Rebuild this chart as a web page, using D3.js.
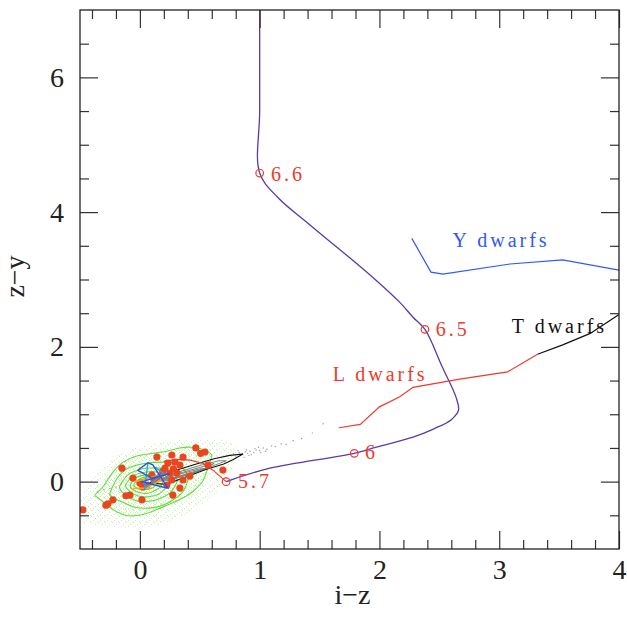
<!DOCTYPE html>
<html><head><meta charset="utf-8">
<script src="https://cdn.jsdelivr.net/npm/d3@7"></script>
<style>
body{margin:0;background:#fff;}
svg{display:block;}
text{font-family:"Liberation Serif","DejaVu Serif",serif;}
</style></head>
<body>
<svg id="chart" width="627" height="617"></svg>
<script>
// ---------- data (i-z, z-y) ----------
const xMajor = [0,1,2,3,4];
const xMinor = [-0.4,-0.2,0.2,0.4,0.6,0.8,1.2,1.4,1.6,1.8,2.2,2.4,2.6,2.8,3.2,3.4,3.6,3.8];
const yMajor = [0,2,4,6];
const yMinor = [-0.5,0.5,1,1.5,2.5,3,3.5,4.5,5,5.5,6.5];

const modelTrack = [[1.0,7.3],[1.0,5.5],[1.0,4.58],[1.15,4.22],[1.42,3.81],[1.90,3.10],[2.17,2.66],[2.28,2.44],[2.38,2.26],
  [2.52,1.72],[2.64,1.25],[2.66,1.06],[2.60,0.92],[2.45,0.78],[2.28,0.66],[1.95,0.50],[1.79,0.42],
  [1.085,0.20],[0.75,0.02],[0.72,0.0]];
const lowTrack = [[0.72,0.0],[0.61,0.17],[0.53,0.27],[0.42,0.32],[0.31,0.33],[0.2,0.30]];
const trackMarks = [[1.0,4.58,"6.6"],[2.38,2.26,"6.5"],[1.79,0.42,"6"],[0.72,0.0,"5.7"]];
const markLabelPos = [[1.094,4.46],[2.47,2.16],[1.88,0.335],[0.82,-0.095]];

const lDwarfs = [[1.66,0.80],[1.84,0.85],[2.0,1.11],[2.17,1.26],[2.28,1.40],[2.67,1.52],[3.07,1.63],[3.32,1.89]];
const tDwarfs = [[3.32,1.89],[3.53,2.03],[3.76,2.20],[4.0,2.48]];
const yDwarfs = [[2.27,3.61],[2.43,3.11],[2.53,3.08],[3.09,3.23],[3.53,3.29],[4.0,3.14]];
const groupNames = ["L dwarfs","T dwarfs","Y dwarfs"];
const groupLabelPos = [[1.61,1.49],[3.105,2.20],[2.61,3.48]];

// green density contours (outer to inner)
const greenContours = [
 [[-0.376,-0.20],[-0.31,-0.08],[-0.225,0.14],[-0.14,0.29],[-0.025,0.38],[0.11,0.42],[0.225,0.45],[0.33,0.50],[0.44,0.51],[0.54,0.47],[0.60,0.39],[0.57,0.22],[0.53,0.02],[0.44,-0.15],[0.33,-0.27],[0.225,-0.35],[0.06,-0.47],[-0.08,-0.51],[-0.19,-0.45],[-0.275,-0.35],[-0.35,-0.24]],
 [[-0.25,-0.17],[-0.19,0.05],[-0.10,0.20],[0.04,0.27],[0.18,0.29],[0.29,0.27],[0.375,0.17],[0.40,0.02],[0.35,-0.17],[0.23,-0.32],[0.10,-0.39],[-0.04,-0.38],[-0.15,-0.30],[-0.23,-0.24]],
 [[-0.17,-0.08],[-0.10,0.10],[0.02,0.19],[0.16,0.20],[0.28,0.12],[0.31,0.0],[0.25,-0.17],[0.12,-0.28],[-0.02,-0.29],[-0.12,-0.20]],
 [[-0.12,-0.06],[-0.06,0.08],[0.04,0.14],[0.15,0.14],[0.23,0.06],[0.23,-0.06],[0.15,-0.19],[0.04,-0.23],[-0.06,-0.18]],
 [[-0.08,-0.05],[-0.03,0.06],[0.05,0.10],[0.14,0.09],[0.19,0.02],[0.17,-0.08],[0.09,-0.16],[0.01,-0.17],[-0.06,-0.12]],
 [[-0.05,-0.04],[0.0,0.04],[0.06,0.07],[0.12,0.05],[0.15,-0.02],[0.10,-0.10],[0.03,-0.12],[-0.03,-0.09]],
 [[-0.02,-0.03],[0.02,0.03],[0.07,0.04],[0.11,0.0],[0.08,-0.06],[0.02,-0.08],[-0.01,-0.06]]
];
const greenHalo = [[-0.55,-0.55],[-0.5,-0.25],[-0.4,0.05],[-0.25,0.32],[-0.05,0.5],[0.25,0.6],[0.5,0.64],[0.75,0.6],[0.82,0.42],[0.75,0.1],[0.62,-0.2],[0.42,-0.45],[0.12,-0.66],[-0.2,-0.68],[-0.45,-0.62]];

// black / grey elongated contours
const greyContours = [
 [[0.12,0.0],[0.3,0.13],[0.5,0.24],[0.66,0.31],[0.72,0.31],[0.62,0.24],[0.45,0.13],[0.25,0.02],[0.12,0.0]],
 [[0.16,0.02],[0.32,0.12],[0.5,0.21],[0.62,0.27],[0.55,0.2],[0.4,0.12],[0.25,0.04],[0.16,0.02]],
 [[0.2,0.04],[0.35,0.12],[0.5,0.19],[0.54,0.19],[0.42,0.12],[0.28,0.05],[0.2,0.04]]
];
const blackContour = [[0.08,-0.02],[0.25,0.14],[0.45,0.25],[0.62,0.34],[0.75,0.39],[0.86,0.41],[0.78,0.33],[0.70,0.26],[0.55,0.18],[0.40,0.08],[0.22,-0.04],[0.08,-0.02]];
const greyDots = [[0.78,0.42],[0.80,0.38],[0.83,0.43],[0.86,0.40],[0.88,0.44],[0.90,0.42],[0.92,0.45],[0.95,0.43],[0.97,0.47],[1.0,0.46],
  [1.03,0.50],[1.06,0.48],[1.1,0.53],[1.13,0.52],[1.18,0.56],[1.22,0.55],[1.28,0.61],[1.35,0.64],[1.44,0.72],[1.53,0.86],
  [0.82,0.46],[0.87,0.36],[0.93,0.40],[0.99,0.51],[1.05,0.45],[0.84,0.39],[0.89,0.47],[0.91,0.39],[0.96,0.49],[1.01,0.43],
  [-0.35,-0.15],[-0.30,-0.12],[-0.25,-0.10],[-0.2,-0.08]];

// red points (observed objects)
const redPts = [[0.467,0.50],[0.507,0.42],[0.543,0.44],[0.142,0.365],[0.267,0.395],[0.36,0.365],[0.234,0.276],[0.292,0.29],
  [0.334,0.246],[0.209,0.20],[0.25,0.127],[0.31,0.127],[0.568,0.246],[0.693,0.172],[-0.15,0.20],[-0.058,0.053],[0.10,0.098],
  [0.167,0.068],[0.417,0.083],[0.36,0.024],[0.267,0.024],[0.058,-0.05],[0.0,-0.02],[0.225,-0.05],[0.334,-0.095],[0.275,-0.20],
  [-0.083,-0.20],[-0.117,-0.21],[0.017,-0.27],[-0.225,-0.27],[-0.267,-0.33],[-0.284,-0.35],[-0.476,-0.42],[0.025,-0.08],
  [0.19,0.15],[0.28,0.19],[0.12,0.02]];

// small coloured tracks in the core
const blueTrack = [[-0.017,0.17],[0.067,0.28],[0.108,0.25],[0.234,-0.095],[0.19,-0.08],[0.017,0.0],[0.25,0.12],[0.10,0.05],[-0.02,0.17]];
const cyanTrack = [[0.067,0.28],[0.04,-0.10],[0.20,0.12],[0.12,0.22]];
const orangeTrack = [[-0.04,0.0],[0.11,0.07],[0.2,0.10],[0.17,0.02],[0.05,-0.10],[-0.06,-0.10],[0.10,-0.10]];

// ---------- drawing ----------
const svg = d3.select("#chart");
const L=80, R=619, T=10, B=549;
const x = d3.scaleLinear().domain([-0.5,4]).range([L,R]);
const y = d3.scaleLinear().domain([-1,7]).range([B,T]);
const line = d3.line().x(d=>x(d[0])).y(d=>y(d[1]));
const smooth = d3.line().x(d=>x(d[0])).y(d=>y(d[1])).curve(d3.curveCatmullRom.alpha(0.5));
const closed = d3.line().x(d=>x(d[0])).y(d=>y(d[1])).curve(d3.curveCardinalClosed.tension(0.3));

const defs = svg.append("defs");
defs.append("clipPath").attr("id","plot").append("rect").attr("x",L).attr("y",T).attr("width",R-L).attr("height",B-T);
const p1 = defs.append("pattern").attr("id","speckSparse").attr("width",7).attr("height",6).attr("patternUnits","userSpaceOnUse");
[[0,0],[4,2],[2,4],[6,5]].forEach(d=>p1.append("rect").attr("x",d[0]).attr("y",d[1]).attr("width",1).attr("height",1).attr("fill","#b2f094"));
const p2 = defs.append("pattern").attr("id","speckDense").attr("width",5).attr("height",4).attr("patternUnits","userSpaceOnUse");
[[0,0],[3,1],[1,3],[4,2]].forEach(d=>p2.append("rect").attr("x",d[0]).attr("y",d[1]).attr("width",1).attr("height",1).attr("fill","#aaee88"));

const g = svg.append("g").attr("clip-path","url(#plot)");

g.append("path").attr("d",closed(greenHalo)).attr("fill","url(#speckSparse)").attr("opacity",0.75);
g.append("path").attr("d",closed(greenContours[0])).attr("fill","url(#speckDense)").attr("opacity",0.55);

g.selectAll(".gd").data(greyDots).join("circle").attr("cx",d=>x(d[0])).attr("cy",d=>y(d[1])).attr("r",0.7).attr("fill","#999");

g.selectAll(".gc").data(greenContours).join("path").attr("d",d=>closed(d))
  .attr("fill","none").attr("stroke","#66da3c").attr("stroke-width",1.1);

g.selectAll(".kc").data(greyContours).join("path").attr("d",d=>line(d))
  .attr("fill","none").attr("stroke","#777").attr("stroke-width",0.9);
g.append("path").attr("d",line(blackContour)).attr("fill","none").attr("stroke","#111").attr("stroke-width",1.1);

g.selectAll(".rp").data(redPts).join("circle").attr("cx",d=>x(d[0])).attr("cy",d=>y(d[1])).attr("r",3.6).attr("fill","#e8461e");

g.append("path").attr("d",line(orangeTrack)).attr("fill","none").attr("stroke","#f2a818").attr("stroke-width",1.6);
g.append("path").attr("d",line(cyanTrack)).attr("fill","none").attr("stroke","#2aa6e8").attr("stroke-width",1.4);
g.append("path").attr("d",line(blueTrack)).attr("fill","none").attr("stroke","#2255ee").attr("stroke-width",1.4);

g.append("path").attr("d",line(lowTrack)).attr("fill","none").attr("stroke","#ee3b2b").attr("stroke-width",1.2);
g.append("path").attr("d",smooth(modelTrack)).attr("fill","none").attr("stroke","#5b3aa6").attr("stroke-width",1.3);

g.append("path").attr("d",line(lDwarfs)).attr("fill","none").attr("stroke","#ee3b2b").attr("stroke-width",1.2);
g.append("path").attr("d",line(tDwarfs)).attr("fill","none").attr("stroke","#111").attr("stroke-width",1.2);
g.append("path").attr("d",line(yDwarfs)).attr("fill","none").attr("stroke","#2d57ff").attr("stroke-width",1.2);

g.selectAll(".tm").data(trackMarks).join("circle").attr("cx",d=>x(d[0])).attr("cy",d=>y(d[1])).attr("r",3.8)
  .attr("fill","none").attr("stroke","#ee3b2b").attr("stroke-width",1.2);

const lab = {fs:20, ls:3};
svg.selectAll(".ml").data(trackMarks).join("text").attr("x",(d,i)=>x(markLabelPos[i][0])).attr("y",(d,i)=>y(markLabelPos[i][1]))
  .attr("font-size",lab.fs).attr("letter-spacing",lab.ls).attr("fill","#ee3b2b").text(d=>d[2]);
const groupColors = ["#ee3b2b","#111","#2d57ff"];
svg.selectAll(".gl").data(groupNames).join("text").attr("x",(d,i)=>x(groupLabelPos[i][0])).attr("y",(d,i)=>y(groupLabelPos[i][1]))
  .attr("font-size",lab.fs).attr("letter-spacing",lab.ls).attr("fill",(d,i)=>groupColors[i]).text(d=>d);

// ---------- axes ----------
function styleAxis(sel){
  sel.select(".domain").remove();
  sel.selectAll(".tick line").attr("stroke","#333").attr("stroke-width",1.2);
  sel.selectAll(".tick text").attr("font-family","'Liberation Serif',serif").attr("font-size",28).attr("fill","#222");
}
svg.append("g").attr("transform",`translate(0,${B})`).call(d3.axisBottom(x).tickValues(xMajor).tickSize(-18).tickPadding(10).tickFormat(d3.format("d"))).call(styleAxis);
svg.append("g").attr("transform",`translate(0,${B})`).call(d3.axisBottom(x).tickValues(xMinor).tickSize(-9).tickFormat("")).call(styleAxis);
svg.append("g").attr("transform",`translate(0,${T})`).call(d3.axisTop(x).tickValues(xMajor).tickSize(-18).tickFormat("")).call(styleAxis);
svg.append("g").attr("transform",`translate(0,${T})`).call(d3.axisTop(x).tickValues(xMinor).tickSize(-9).tickFormat("")).call(styleAxis);
svg.append("g").attr("transform",`translate(${L},0)`).call(d3.axisLeft(y).tickValues(yMajor).tickSize(-18).tickPadding(16).tickFormat(d3.format("d"))).call(styleAxis);
svg.append("g").attr("transform",`translate(${L},0)`).call(d3.axisLeft(y).tickValues(yMinor).tickSize(-9).tickFormat("")).call(styleAxis);
svg.append("g").attr("transform",`translate(${R},0)`).call(d3.axisRight(y).tickValues(yMajor).tickSize(-18).tickFormat("")).call(styleAxis);
svg.append("g").attr("transform",`translate(${R},0)`).call(d3.axisRight(y).tickValues(yMinor).tickSize(-9).tickFormat("")).call(styleAxis);

svg.append("rect").attr("x",L).attr("y",T).attr("width",R-L).attr("height",B-T).attr("fill","none").attr("stroke","#222").attr("stroke-width",1.3);

svg.append("text").attr("x",(L+R)/2+3).attr("y",604).attr("text-anchor","middle").attr("font-size",28).attr("fill","#222").text("i−z");
svg.append("text").attr("transform",`translate(24,${(T+B)/2-3}) rotate(-90)`).attr("text-anchor","middle").attr("font-size",28).attr("fill","#222").text("z−y");
</script>
</body></html>
